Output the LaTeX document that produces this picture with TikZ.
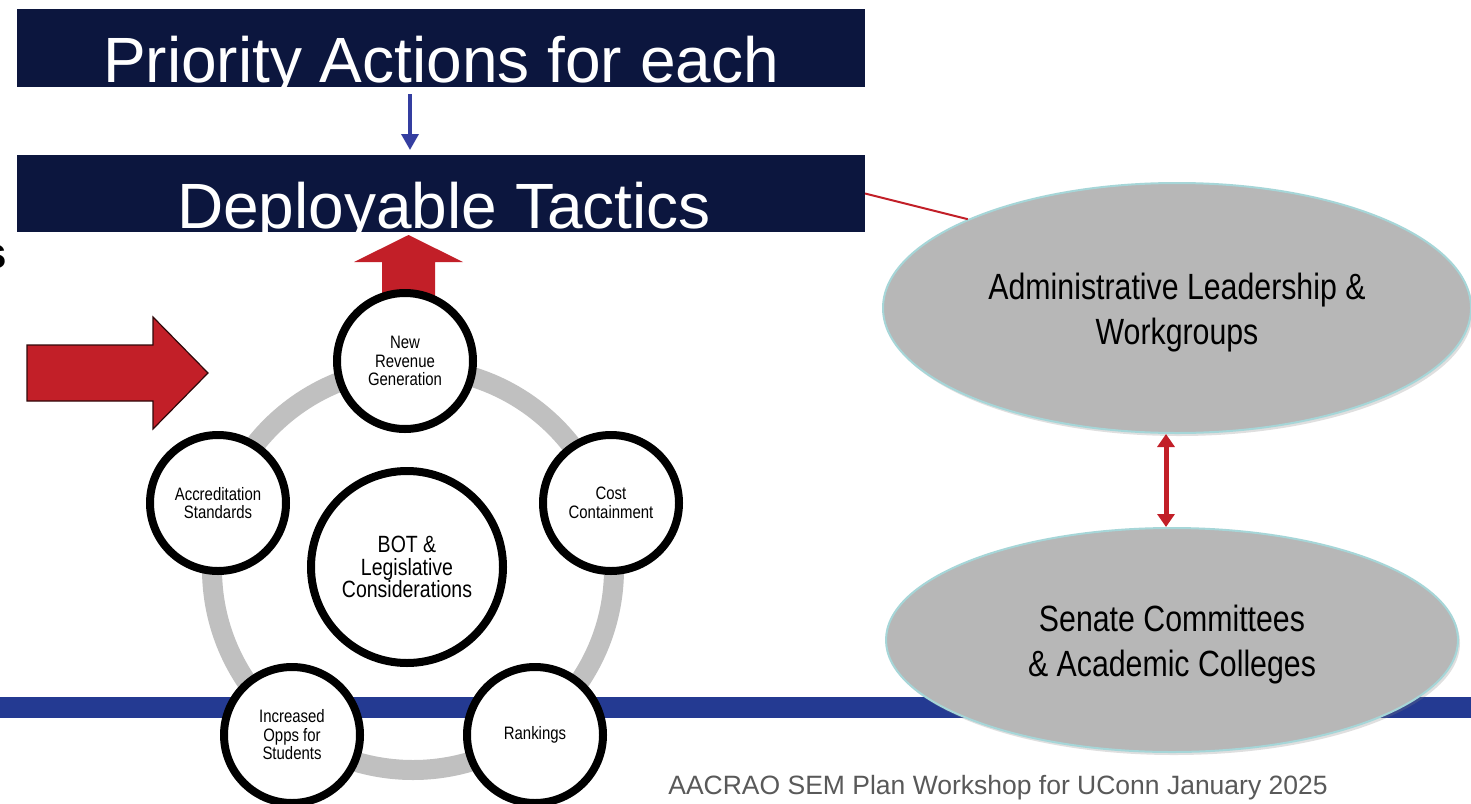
\documentclass[tikz,border=0pt]{standalone}
\usepackage{fontspec}
\setmainfont{Liberation Sans}
\newfontfamily\narrowfont[FakeStretch=0.83]{Liberation Sans}
\usetikzlibrary{arrows.meta,shapes.geometric,shadows}
\definecolor{navy}{RGB}{12,22,62}
\definecolor{barblue}{RGB}{36,58,146}
\definecolor{arrblue}{RGB}{52,62,160}
\definecolor{arrred}{RGB}{194,31,40}
\definecolor{ringgray}{RGB}{192,192,192}
\definecolor{ellgray}{RGB}{183,183,183}
\definecolor{ellline}{RGB}{166,214,216}
\definecolor{footgray}{RGB}{89,89,89}
\tikzset{
  navybox/.style={rectangle, fill=navy, inner sep=0pt, outer sep=0pt},
  boxtext/.style={anchor=base, inner sep=0pt, text=white, font=\fontsize{64}{70}\selectfont},
  ringnode/.style={circle, draw=black, line width=8pt, fill=white, minimum size=136pt,
    inner sep=0pt, align=center, font=\narrowfont\fontsize{18}{18.5}\selectfont,
    drop shadow={opacity=0.25, shadow xshift=1.5pt, shadow yshift=-2.5pt}},
  ellnode/.style={ellipse, draw=ellline, line width=2pt, fill=ellgray, inner sep=0pt,
    drop shadow={opacity=0.25, shadow xshift=2pt, shadow yshift=-3pt}},
  elltext/.style={inner sep=0pt, align=center, font=\narrowfont\fontsize{36.5}{45}\selectfont},
  bluearrow/.style={draw=arrblue, line width=3.5pt, -{Triangle[width=17pt,length=16pt]}},
  redline/.style={draw=arrred, line width=2pt},
  dblarrow/.style={draw=arrred, line width=5pt,
    {Triangle[width=17pt,length=13pt]}-{Triangle[width=17pt,length=13pt]}}
}
\begin{document}
\begin{tikzpicture}[x=1pt,y=-1pt]
\useasboundingbox (0,0) rectangle (1471,803);
\clip (0,0) rectangle (1471,803);
\fill[white] (0,0) rectangle (1471,803);

% blue bar
\fill[barblue] (0,697) rectangle (1471,718);

% grey ring
\draw[ringgray, line width=20pt] (413,569) circle[radius=201];

% red block arrows
\fill[arrred] (382,305) -- (382,262) -- (354,262) -- (408.5,235) -- (463,262) -- (435,262) -- (435,305) -- cycle;
\filldraw[fill=arrred, draw=black!75!arrred, line width=1.2pt]
  (27,345) -- (153,345) -- (153,317) -- (208,373) -- (153,429) -- (153,401) -- (27,401) -- cycle;

% partial letter at the left edge
\node[anchor=base east, inner sep=0pt, font=\bfseries\fontsize{44}{48}\selectfont] (sfrag) at (7,268) {s};

% navy boxes
\node[navybox, minimum width=848pt, minimum height=78pt] (box1) at (441,48) {};
\node[navybox, minimum width=848pt, minimum height=77pt] (box2) at (441,193.5) {};
\begin{scope}
  \clip (box1.south west) rectangle (box1.north east);
  \node[boxtext] (t1) at (441,82) {Priority Actions for each};
\end{scope}
\begin{scope}
  \clip (box2.south west) rectangle (box2.north east);
  \node[boxtext] (t2) at (444,228) {Deployable Tactics};
\end{scope}
\draw[bluearrow, shorten <=7pt, shorten >=5pt] ([xshift=-31pt]box1.south) -- ([xshift=-31pt]box2.north);

% circles
\node[ringnode] (rev) at (405,361) {New\\Revenue\\Generation};
\node[ringnode] (cost) at (611,503) {Cost\\Containment};
\node[ringnode] (accr) at (218,503) {Accreditation\\Standards};
\node[ringnode] (opps) at (292,735) {Increased\\Opps for\\Students};
\node[ringnode] (rank) at (535,735) {Rankings};
\node[ringnode, minimum size=192pt, font=\narrowfont\fontsize{23.5}{22.5}\selectfont] (bot) at (407,567)
  {BOT \&\\Legislative\\Considerations};

% ellipses
\node[ellnode, minimum width=588pt, minimum height=250pt] (adm) at (1177,308) {};
\node[elltext] (admt) at ([yshift=-5pt]adm.center) {Administrative Leadership \&\\Workgroups};
\node[ellnode, minimum width=572pt, minimum height=224pt] (sen) at (1172,640) {};
\node[elltext] (sent) at ([yshift=-5pt]sen.center) {Senate Committees\\\& Academic Colleges};

\draw[redline] (box2.east) -- (adm.157);
\draw[dblarrow] ([xshift=-11pt]adm.south) -- ([xshift=-6pt]sen.north);

% footer
\node[anchor=base, inner sep=0pt, text=footgray, font=\fontsize{26.5}{30}\selectfont] (foot) at (998,794)
  {AACRAO SEM Plan Workshop for UConn January 2025};
\end{tikzpicture}
\end{document}
